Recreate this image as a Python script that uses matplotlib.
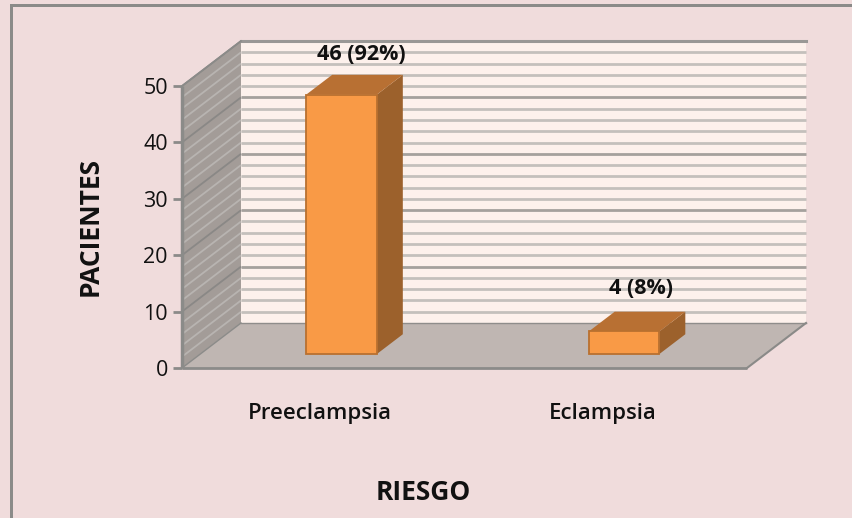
import matplotlib
matplotlib.use("Agg")
import matplotlib.pyplot as plt
from matplotlib.patches import Polygon, Rectangle

categories = ["Preeclampsia", "Eclampsia"]
patients = [46, 4]
bar_labels = ["46 (92%)", "4 (8%)"]
y_ticks = [0, 10, 20, 30, 40, 50]
grid_values = list(range(0, 51, 2))
x_title = "RIESGO"
y_title = "PACIENTES"

W, H = 853, 518
BG = "#f0dcdc"; WALL = "#fdf1ec"; SIDE = "#a39c98"; FLOOR = "#bfb6b2"
AXC = "#8b8b89"; FRONT = "#f99a46"; TOP = "#b87033"; RIGHT = "#9c612c"; EDGE = "#b9702f"
FONT = "Open Sans"

fig = plt.figure(figsize=(W/100, H/100), dpi=100, facecolor=BG)
L, R, B, T = 182, 747, 368, 86
ax = fig.add_axes([L/W, 1-B/H, (R-L)/W, (B-T)/H])
ax.set_xlim(0, 2); ax.set_ylim(0, 50)
ax.axis("off")

# outer frame of the picture
fig.add_artist(Rectangle((10/W, 0), 3/W, (H-4)/H, transform=fig.transFigure, fc=AXC, ec="none"))
fig.add_artist(Rectangle((10/W, 1-7/H), (W-10)/W, 3/H, transform=fig.transFigure, fc=AXC, ec="none"))

# depth projection: d=0 front plane, d=1 back wall
DX = 59/(R-L)*2
DY = 45/(B-T)*50
def P(x, y, d=0.0):
    return (x + d*DX, y + d*DY)

def poly(pts, fc, ec="none", lw=0, z=1):
    ax.add_patch(Polygon(pts, closed=True, fc=fc, ec=ec, lw=lw, zorder=z, clip_on=False))

# walls and floor
poly([P(0, 0, 1), P(2, 0, 1), P(2, 50, 1), P(0, 50, 1)], WALL, z=1)
poly([P(0, 0, 0), P(0, 0, 1), P(0, 50, 1), P(0, 50, 0)], SIDE, z=1)
poly([P(0, 0, 0), P(2, 0, 0), P(2, 0, 1), P(0, 0, 1)], FLOOR, z=2)

for v in grid_values:
    major = v % 10 == 0
    x0, y0 = P(0, v, 1); x1, y1 = P(2, v, 1)
    xa, ya = P(0, v, 0)
    if v > 0:
        ax.plot([x0, x1], [y0, y1], color="#a5a19d" if major else "#c4c0bc",
                lw=2.0, zorder=1.5, clip_on=False, solid_capstyle="butt")
        ax.plot([xa, x0], [ya, y0], color="#8a8886" if major else "#b8b4b1",
                lw=1.3, zorder=1.5, clip_on=False, solid_capstyle="butt")

# wall edges
ax.plot(*zip(P(0, 50, 1), P(2, 50, 1)), color="#9a9896", lw=2.2, zorder=1.6, clip_on=False)
ax.plot(*zip(P(0, 0, 1), P(2, 0, 1)), color="#8f8d8b", lw=1, zorder=2.1, clip_on=False)
ax.plot(*zip(P(2, 0, 0), P(2, 0, 1)), color="#8a8a88", lw=1.5, zorder=2.1, clip_on=False)

# axes
ax.plot([0, 0], [0, 50], color=AXC, lw=2.5, zorder=3, clip_on=False, solid_capstyle="butt")
ax.plot([0, 2], [0, 0], color=AXC, lw=2, zorder=3, clip_on=False, solid_capstyle="butt")
ax.plot(*zip(P(0, 50, 0), P(0, 50, 1)), color=AXC, lw=1.2, zorder=3, clip_on=False)
ax.plot(*zip(P(0, 0, 0), P(0, 0, 1)), color=AXC, lw=1.0, zorder=3, clip_on=False)

# bars
BW = 0.25; D0 = 0.31; D1 = 0.75
centers = [i + 0.5 for i in range(len(categories))]
label_px = [(-6, 20), (-9, 23)]
PX = 0.72
for i, (c, v, txt) in enumerate(zip(centers, patients, bar_labels)):
    a, b = c - BW/2, c + BW/2
    poly([P(b, 0, D0), P(b, 0, D1), P(b, v, D1), P(b, v, D0)], RIGHT, z=4)
    poly([P(a, v, D0), P(b, v, D0), P(b, v, D1), P(a, v, D1)], TOP, z=4)
    poly([P(a, 0, D0), P(b, 0, D0), P(b, v, D0), P(a, v, D0)], FRONT, ec=EDGE, lw=1.3, z=5)
    ox, oy = label_px[i]
    ax.annotate(txt, xy=P(c, v, D1), xytext=(ox*PX, oy*PX), annotation_clip=False,
                textcoords="offset points", ha="center", va="center",
                fontsize=15.5, fontweight="bold", family=FONT, color="#111111", zorder=6)
    ax.annotate(categories[i], xy=(c, 0), xytext=(-3*PX, -45*PX), annotation_clip=False,
                textcoords="offset points", ha="center", va="center",
                fontsize=16, fontweight="semibold", family=FONT, color="#111111", zorder=6)

# ticks
for v in y_ticks:
    ax.plot([0, -9/(R-L)*2], [v, v], color=AXC, lw=2, zorder=3, clip_on=False, solid_capstyle="butt")
    ax.annotate(str(v), xy=(0, v), xytext=(-14*PX, -2.5*PX), textcoords="offset points",
                annotation_clip=False, ha="right", va="center", fontsize=15.5,
                family=FONT, color="#111111", zorder=6)

# titles
fig.text(90/W, 1-227/H, y_title, rotation=90, ha="center", va="center",
         fontsize=19, fontweight="bold", family=FONT, color="#111111")
fig.text(423/W, 1-492/H, x_title, ha="center", va="center",
         fontsize=19, fontweight="bold", family=FONT, color="#111111")

fig.savefig("out.png", dpi=100, facecolor=BG)
